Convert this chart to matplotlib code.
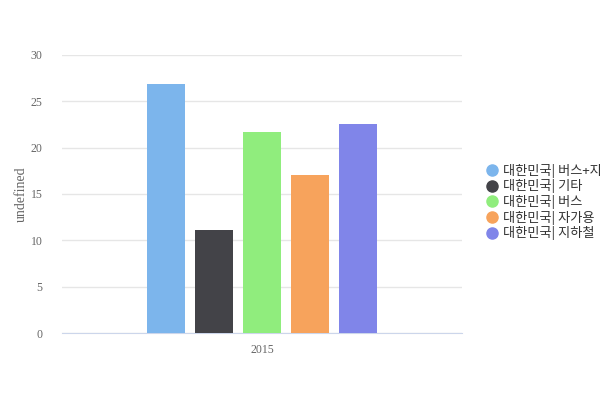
import numpy as np
import matplotlib.pyplot as plt
from matplotlib.lines import Line2D

categories = ['2015']
series_names = ['대한민국| 버스+지하철', '대한민국| 기타', '대한민국| 버스',
                '대한민국| 자가용', '대한민국| 지하철']
series_values = [26.8, 11.1, 21.7, 17.0, 22.5]
colors = ['#7cb5ec', '#434348', '#90ed7d', '#f7a35c', '#8085e9']
y_ticks = [0, 5, 10, 15, 20, 25, 30]

fig = plt.figure(figsize=(6, 4), dpi=100)
ax = fig.add_axes([0.1033, 0.1667, 0.6667, 0.6966])

n = len(series_values)
width = 0.095
step = 0.12
x = np.arange(len(categories))
for i, (name, val, c) in enumerate(zip(series_names, series_values, colors)):
    ax.bar(x + (i - (n - 1) / 2) * step, [val], width=width, color=c, label=name, zorder=3)

ax.set_xlim(-0.5, 0.5)
ax.set_ylim(0, 30)
ax.set_yticks(y_ticks)
ax.set_xticks(x)
ax.set_xticklabels(categories)
ax.grid(axis='y', color='#e6e6e6', lw=1, zorder=0)
for s in ['top', 'right', 'left']:
    ax.spines[s].set_visible(False)
ax.spines['bottom'].set_color('#ccd6eb')
ax.tick_params(axis='both', length=0, colors='#666666', labelsize=8.5)
ax.tick_params(axis='y', pad=14)
ax.tick_params(axis='x', pad=8)
for lab in ax.get_xticklabels() + ax.get_yticklabels():
    lab.set_family('Liberation Serif')
ax.set_ylabel('undefined', family='Liberation Serif', color='#666666', fontsize=10, labelpad=2)

handles = [Line2D([], [], marker='o', ls='', markersize=8, markerfacecolor=c, markeredgecolor=c)
           for c in colors]
leg = fig.legend(handles, series_names, loc='center left', bbox_to_anchor=(0.787, 0.495),
                 frameon=False, handletextpad=0.25, labelspacing=0.13, handlelength=1.2,
                 prop={'family': ['Noto Sans CJK KR', 'DejaVu Sans'], 'size': 9.5})
for t in leg.get_texts():
    t.set_color('#333333')

fig.savefig('out.png', dpi=100)
